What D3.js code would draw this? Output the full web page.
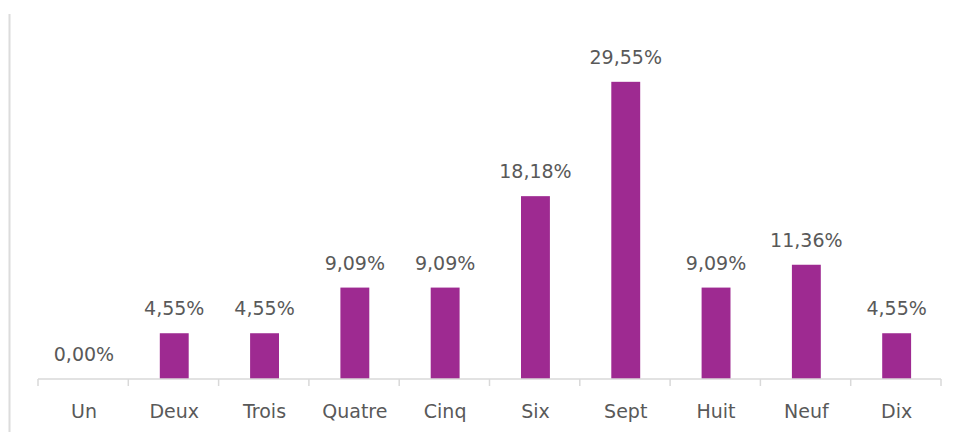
<!DOCTYPE html>
<html><head><meta charset="utf-8">
<script src="https://cdn.jsdelivr.net/npm/d3@7"></script>
<style>html,body{margin:0;padding:0;background:#fff;}svg{display:block;}</style>
</head><body>
<svg id="c" width="955" height="432"></svg>
<script>
const categories = ["Un","Deux","Trois","Quatre","Cinq","Six","Sept","Huit","Neuf","Dix"];
const values = [0.00, 4.55, 4.55, 9.09, 9.09, 18.18, 29.55, 9.09, 11.36, 4.55];
const valueLabels = ["0,00%","4,55%","4,55%","9,09%","9,09%","18,18%","29,55%","9,09%","11,36%","4,55%"];

const svg = d3.select("#c");
const x = d3.scaleBand().domain(categories).range([38.8, 941.8]).paddingInner(0.68).paddingOuter(0.34);
const y = d3.scaleLinear().domain([0, 35]).range([379, 27]);
const font = "DejaVu Sans, sans-serif";

svg.append("line").attr("x1",9.5).attr("x2",9.5).attr("y1",14).attr("y2",432)
  .attr("stroke","#dcdcdc").attr("stroke-width",2);

svg.selectAll("rect.bar").data(values).join("rect").attr("class","bar")
  .attr("x",(d,i)=>x(categories[i])).attr("width",x.bandwidth())
  .attr("y",d=>y(d)).attr("height",d=>y(0)-y(d)).attr("fill","#9E2A91");

svg.selectAll("text.val").data(values).join("text").attr("class","val")
  .attr("x",(d,i)=>x(categories[i])+x.bandwidth()/2).attr("y",d=>y(d)-18)
  .attr("text-anchor","middle").attr("font-family",font).attr("font-size","19px")
  .attr("fill","#595959").text((d,i)=>valueLabels[i]);

const step = (941-38)/categories.length;
const ax = svg.append("g").attr("transform","translate(0,379)");
ax.append("line").attr("x1",38).attr("x2",941).attr("stroke","#d9d9d9").attr("stroke-width",1.5);
ax.selectAll("line.tick").data(d3.range(categories.length+1)).join("line").attr("class","tick")
  .attr("x1",i=>38+i*step).attr("x2",i=>38+i*step).attr("y1",0).attr("y2",7)
  .attr("stroke","#d9d9d9").attr("stroke-width",1.5);
ax.selectAll("text.cat").data(categories).join("text").attr("class","cat")
  .attr("x",d=>x(d)+x.bandwidth()/2).attr("y",39)
  .attr("text-anchor","middle").attr("font-family",font).attr("font-size","19px")
  .attr("fill","#595959").text(d=>d);
</script>
</body></html>
